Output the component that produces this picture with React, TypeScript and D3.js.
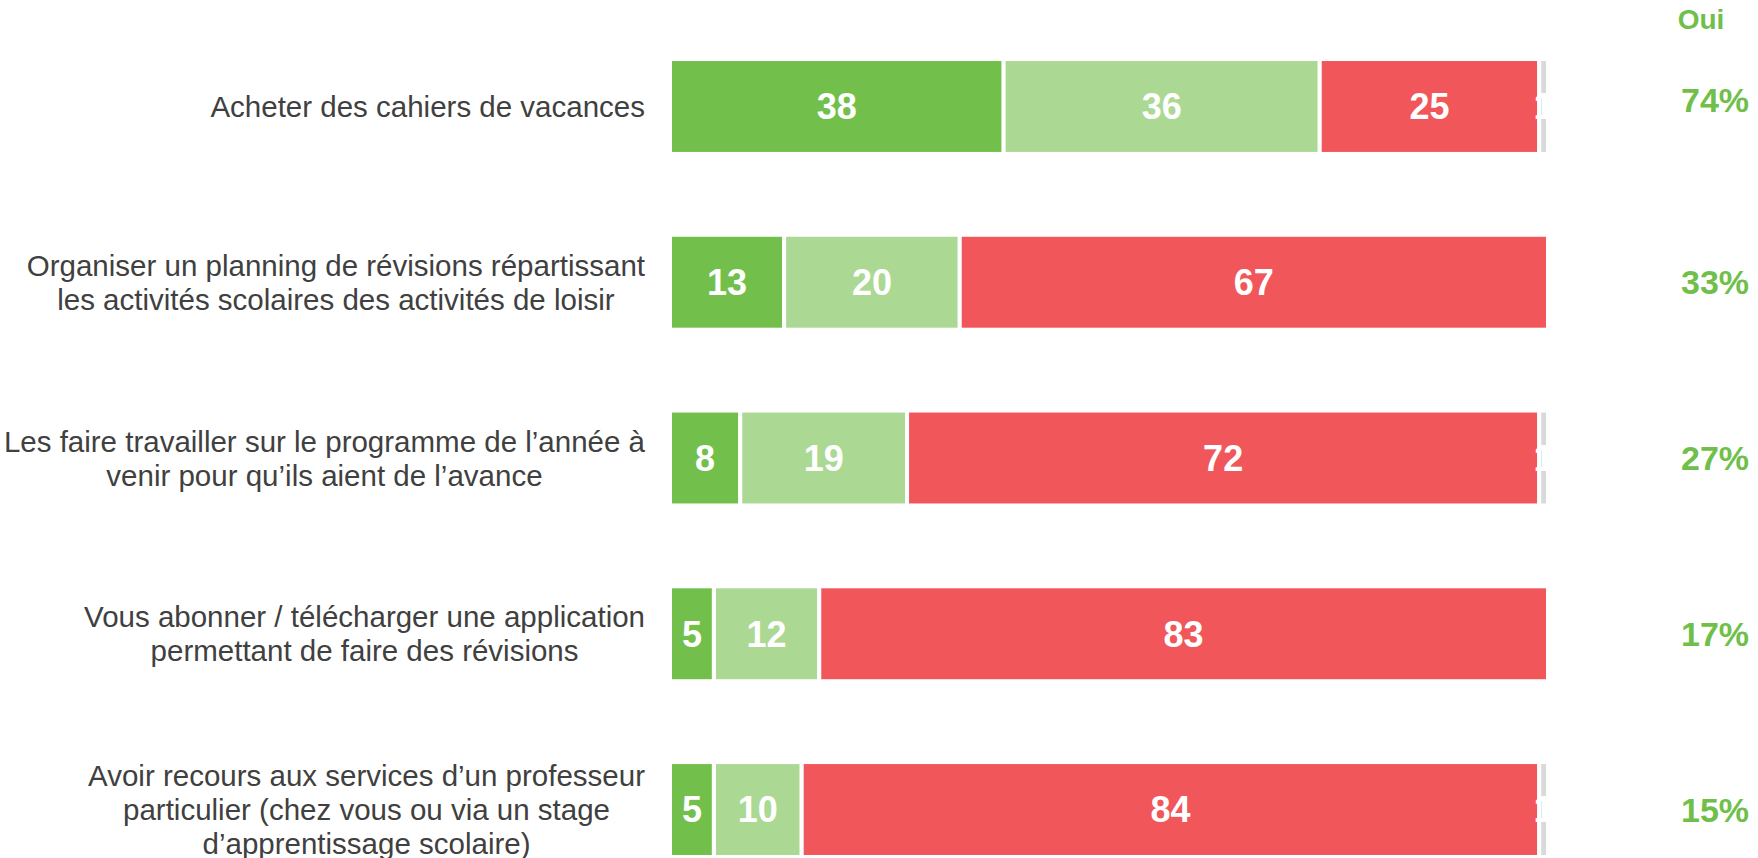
import React, { useEffect, useRef } from "react";
import * as d3 from "d3";

// items (multi-line labels)
const categories = [
  ["Acheter des cahiers de vacances"],
  ["Organiser un planning de révisions répartissant", "les activités scolaires des activités de loisir"],
  ["Les faire travailler sur le programme de l’année à", "venir pour qu’ils aient de l’avance"],
  ["Vous abonner / télécharger une application", "permettant de faire des révisions"],
  ["Avoir recours aux services d’un professeur", "particulier (chez vous ou via un stage", "d’apprentissage scolaire)"],
];

const seriesNames = ["Oui, souvent", "Oui, de temps en temps", "Non", "NSP"];
const ouiSouvent = [38, 13, 8, 5, 5];
const ouiParfois = [36, 20, 19, 12, 10];
const non = [25, 67, 72, 83, 84];
const nsp = [1, 0, 1, 0, 1];
const ouiTotals = ["74%", "33%", "27%", "17%", "15%"];

const colors = ["#72bf4b", "#abd994", "#f0565a", "#d9d9d9"];

export default function App() {
  const ref = useRef<SVGSVGElement>(null);

  useEffect(() => {
    document.body.style.margin = "0";
    const svg = d3.select(ref.current);
    svg.selectAll("*").remove();

    const width = 1758;
    const height = 858;
    const font = "'Liberation Sans', Arial, sans-serif";

    const x = d3.scaleLinear().domain([0, 100]).range([670, 1548]);
    const y = d3
      .scaleBand()
      .domain(categories.map((_, i) => String(i)))
      .range([18.6, 897.4])
      .paddingInner(0.46)
      .paddingOuter(0.23);

    const rows = categories.map((c, i) => {
      const vals = [ouiSouvent[i], ouiParfois[i], non[i], nsp[i]];
      let acc = 0;
      const segs = vals.map((v, k) => {
        const s = { k, v, x0: acc, x1: acc + v, row: i };
        acc += v;
        return s;
      });
      return { i, segs: segs.filter((s) => s.v > 0) };
    });

    const g = svg.append("g");

    const rowG = g
      .selectAll("g.row")
      .data(rows)
      .join("g")
      .attr("class", "row")
      .attr("transform", (d) => `translate(0,${y(String(d.i))})`);

    rowG
      .selectAll("rect")
      .data((d) => d.segs)
      .join("rect")
      .attr("x", (d) => x(d.x0))
      .attr("width", (d) => x(d.x1) - x(d.x0))
      .attr("y", 0)
      .attr("height", y.bandwidth())
      .attr("fill", (d) => colors[d.k])
      .attr("stroke", "#fff")
      .attr("stroke-width", 4);

    rowG
      .selectAll("text.val")
      .data((d) => d.segs)
      .join("text")
      .attr("class", "val")
      .attr("x", (d) => (x(d.x0) + x(d.x1)) / 2)
      .attr("y", y.bandwidth() / 2)
      .attr("dy", "0.36em")
      .attr("text-anchor", "middle")
      .attr("fill", "#fff")
      .attr("font-family", font)
      .attr("font-weight", "bold")
      .attr("font-size", 36)
      .text((d) => d.v);

    // category labels, centered lines, right edge at 645
    const lineH = 34.2;
    categories.forEach((lines, i) => {
      const cy = (y(String(i)) as number) + y.bandwidth() / 2;
      const t = g
        .append("text")
        .attr("font-family", font)
        .attr("font-size", 29.5)
        .attr("fill", "#404040")
        .attr("text-anchor", "middle");
      const spans = lines.map((l, j) =>
        t
          .append("tspan")
          .attr("y", cy + (j - (lines.length - 1) / 2) * lineH)
          .attr("dy", "0.36em")
          .text(l)
      );
      const maxW = d3.max(spans, (s) => (s.node() as SVGTSpanElement).getComputedTextLength()) || 0;
      spans.forEach((s) => s.attr("x", 645 - maxW / 2));
    });

    // "Oui" column
    g.append("text")
      .attr("x", 1701)
      .attr("y", 29)
      .attr("text-anchor", "middle")
      .attr("font-family", font)
      .attr("font-weight", "bold")
      .attr("font-size", 28)
      .attr("fill", "#70bf4a")
      .text("Oui");

    g.selectAll("text.oui")
      .data(ouiTotals)
      .join("text")
      .attr("class", "oui")
      .attr("x", 1681)
      .attr("y", (_, i) => (y(String(i)) as number) + y.bandwidth() / 2 - (i === 0 ? 7 : 0))
      .attr("dy", "0.36em")
      .attr("font-family", font)
      .attr("font-weight", "bold")
      .attr("font-size", 34)
      .attr("fill", "#70bf4a")
      .text((d) => d);

    svg.attr("width", width).attr("height", height);
  }, []);

  return <svg ref={ref} width={1758} height={858} style={{ display: "block" }} aria-label={seriesNames.join(", ")} />;
}
